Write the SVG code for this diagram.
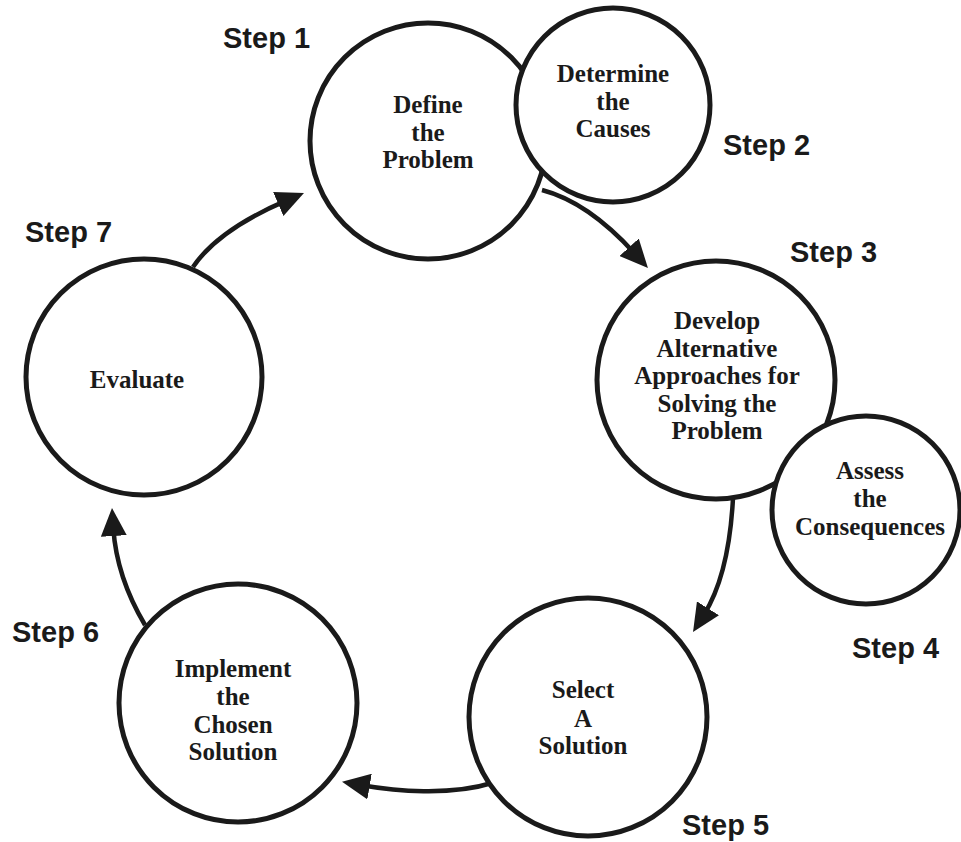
<svg xmlns="http://www.w3.org/2000/svg" width="961" height="842" viewBox="0 0 961 842">
<style>
.node{fill:#fff;stroke:#1a1a1a;stroke-width:5}
.lbl{font-family:"Liberation Serif","Times New Roman",serif;font-weight:bold;font-size:25px;fill:#1a1a1a;text-anchor:middle}
.step{font-family:"Liberation Sans",Arial,sans-serif;font-weight:bold;font-size:29px;fill:#1a1a1a}
.arrow{fill:none;stroke:#1a1a1a;stroke-width:4.5;marker-end:url(#head)}
</style>
<defs>
<marker id="head" markerUnits="userSpaceOnUse" viewBox="0 0 28 26" refX="8" refY="13" markerWidth="28" markerHeight="26" orient="auto">
<path d="M0,0 L28,13 L0,26 Z" fill="#1a1a1a"/>
</marker>
</defs>
<rect width="961" height="842" fill="#fff"/>
<g id="connectors">
<path class="arrow" d="M193,267 Q218,230 285.6,200.9"/>
<path class="arrow" d="M542,190 Q588,202 634.5,253.2"/>
<path class="arrow" d="M733,498 Q729,575 703.7,615.1"/>
<path class="arrow" d="M492,783 C450,796 395,791 361.7,785.2"/>
<path class="arrow" d="M145,625 Q116.5,577 113.3,528"/>
</g>
<g id="step1">
<circle class="node" cx="428" cy="141" r="118"/>
<text class="lbl" x="428" y="113">Define</text>
<text class="lbl" x="428" y="141">the</text>
<text class="lbl" x="428" y="168">Problem</text>
<text class="step" x="223" y="48">Step 1</text>
</g>
<g id="step2">
<circle class="node" cx="613" cy="105" r="97"/>
<text class="lbl" x="613" y="82">Determine</text>
<text class="lbl" x="613" y="110">the</text>
<text class="lbl" x="613" y="137">Causes</text>
<text class="step" x="723" y="155">Step 2</text>
</g>
<g id="step3">
<circle class="node" cx="716" cy="380" r="119"/>
<text class="lbl" x="717" y="329">Develop</text>
<text class="lbl" x="717" y="357">Alternative</text>
<text class="lbl" x="717" y="384">Approaches for</text>
<text class="lbl" x="717" y="412">Solving the</text>
<text class="lbl" x="717" y="439">Problem</text>
<text class="step" x="790" y="262">Step 3</text>
</g>
<g id="step4">
<circle class="node" cx="866" cy="510" r="94"/>
<text class="lbl" x="870" y="479">Assess</text>
<text class="lbl" x="870" y="507">the</text>
<text class="lbl" x="870" y="535">Consequences</text>
<text class="step" x="852" y="658">Step 4</text>
</g>
<g id="step5">
<circle class="node" cx="588" cy="717" r="119"/>
<text class="lbl" x="583" y="698">Select</text>
<text class="lbl" x="583" y="727">A</text>
<text class="lbl" x="583" y="754">Solution</text>
<text class="step" x="682" y="835">Step 5</text>
</g>
<g id="step6">
<circle class="node" cx="238" cy="703" r="119"/>
<text class="lbl" x="233" y="677">Implement</text>
<text class="lbl" x="233" y="705">the</text>
<text class="lbl" x="233" y="733">Chosen</text>
<text class="lbl" x="233" y="760">Solution</text>
<text class="step" x="12" y="642">Step 6</text>
</g>
<g id="step7">
<circle class="node" cx="144" cy="377" r="118"/>
<text class="lbl" x="137" y="388">Evaluate</text>
<text class="step" x="25" y="242">Step 7</text>
</g>
</svg>
